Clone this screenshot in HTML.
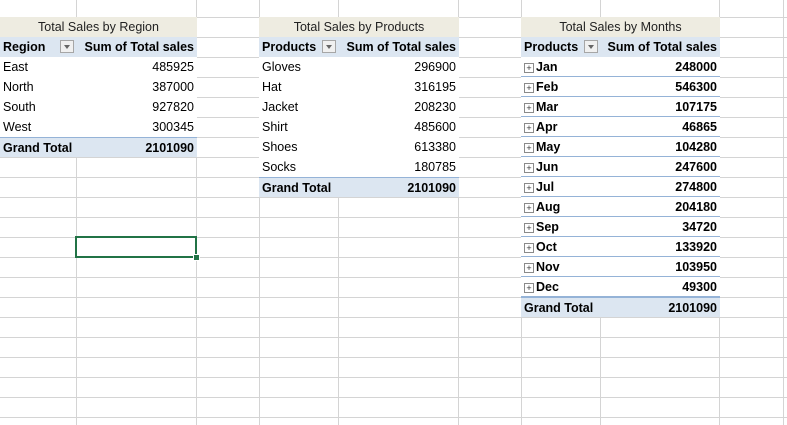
<!DOCTYPE html>
<html><head><meta charset="utf-8">
<style>
body{margin:0;width:787px;height:425px;overflow:hidden;background:#fff;font-family:"Liberation Sans",sans-serif;font-size:12.5px;color:#000;position:relative}
.c{position:absolute;height:20px;line-height:21px;box-sizing:border-box;white-space:nowrap;overflow:hidden;padding:0 3px}
.r{text-align:right}
.b{font-weight:bold}
.t{background:#eeece1;text-align:center;color:#222}
.h{background:#dce6f1;font-weight:bold}
.g{background:#dce6f1;font-weight:bold;border-top:1px solid #95b3d7}
.w{background:#fff}
.bl{border-bottom:1px solid #95b3d7}
.dd{position:absolute;width:14px;height:13px;border:1px solid #a6a6a6;background:#f0f0f0;box-sizing:border-box}
.dd:after{content:"";position:absolute;left:3px;top:4px;border-left:3px solid transparent;border-right:3px solid transparent;border-top:4px solid #666}
.pl{display:inline-block;width:8px;height:8px;border:1px solid #8a8a8a;font-size:9px;line-height:8px;text-align:center;margin-right:2px;vertical-align:0px;color:#333;font-weight:normal}
</style></head><body>
<svg id="grid" width="787" height="425" style="position:absolute;left:0;top:0"></svg>
<div id="cells"></div>
<div style="position:absolute;left:75px;top:236px;width:122px;height:22px;border:2px solid #217346;box-sizing:border-box"></div>
<div style="position:absolute;left:193px;top:254px;width:5px;height:5px;background:#217346;border:1px solid #fff"></div>
<script>
const colLines=[76,196,259,338,458,521,600,719,783];
const regions=["East","North","South","West"];
const regionSales=[485925,387000,927820,300345];
const products=["Gloves","Hat","Jacket","Shirt","Shoes","Socks"];
const productSales=[296900,316195,208230,485600,613380,180785];
const months=["Jan","Feb","Mar","Apr","May","Jun","Jul","Aug","Sep","Oct","Nov","Dec"];
const monthSales=[248000,546300,107175,46865,104280,247600,274800,204180,34720,133920,103950,49300];
const grandTotal=2101090;

const svg=document.getElementById('grid');
const NS='http://www.w3.org/2000/svg';
for(const x of colLines){const l=document.createElementNS(NS,'line');


l.setAttribute('x1',x+.5);l.setAttribute('x2',x+.5);l.setAttribute('y1',0);l.setAttribute('y2',425);l.setAttribute('stroke','#d4d4d4');svg.appendChild(l);}
for(let y=17;y<425;y+=20){const l=document.createElementNS(NS,'line');


l.setAttribute('x1',0);l.setAttribute('x2',787);l.setAttribute('y1',y+.5);l.setAttribute('y2',y+.5);l.setAttribute('stroke','#d4d4d4');svg.appendChild(l);}

const host=document.getElementById('cells');
function cell(x,y,w,cls,html,name){const d=document.createElement('div');d.className='c '+cls;
d.style.left=x+'px';d.style.top=y+'px';d.style.width=w+'px';d.innerHTML=html;


host.appendChild(d);return d;}
function dd(x,y){const d=document.createElement('div');d.className='dd';d.style.left=x+'px';d.style.top=y+'px';


host.appendChild(d);}

function table(x0,w1,w2,title,head,labels,vals,bold,blue){
 const W=w1+w2;
 cell(x0,17,W+1,'t',title,'pivot-title');
 cell(x0,37,w1,'h',head,'row-label-header');
 cell(x0+w1,37,w2+1,'h r','Sum of Total sales','value-header');
 dd(x0+w1-16,40);
 labels.forEach((lab,i)=>{const y=57+i*20;
  const lbl=blue?'<span class="pl">+</span>'+lab:lab;
  cell(x0,y,w1,'w'+(bold?' b':'')+(blue?' bl':''),lbl,'row-label');
  cell(x0+w1,y,w2+1,'w r'+(bold?' b':'')+(blue?' bl':''),vals[i],'row-value');});
 const gy=57+labels.length*20;
 cell(x0,gy,w1,'g','Grand Total','grand-total-label');
 cell(x0+w1,gy,w2+1,'g r',grandTotal,'grand-total-value');
}
table(0,76,120,'Total Sales by Region','Region',regions,regionSales,false,false);
table(259,79,120,'Total Sales by Products','Products',products,productSales,false,false);
table(521,79,119,'Total Sales by Months','Products',months,monthSales,true,true);
</script>
</body></html>
